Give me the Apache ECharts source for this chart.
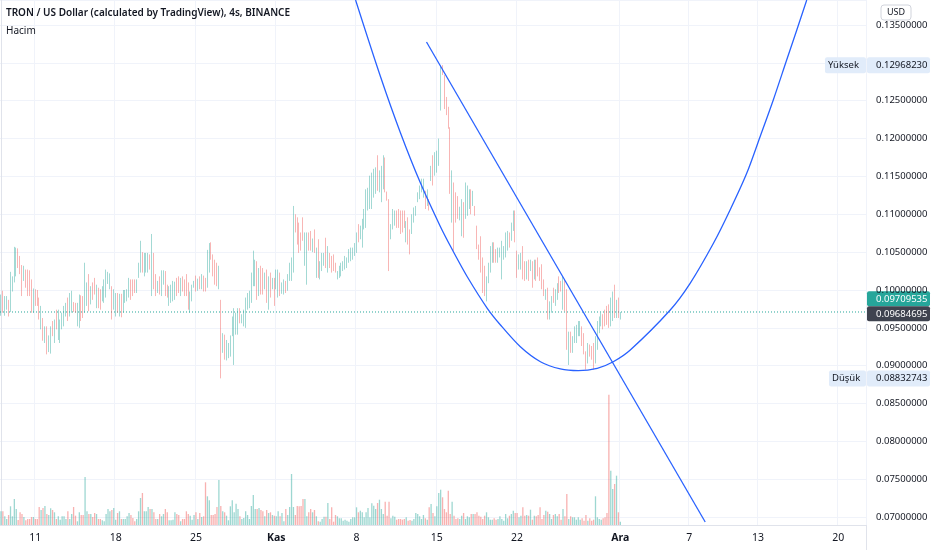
<!DOCTYPE html>
<html><head><meta charset="utf-8">
<script src="https://cdn.jsdelivr.net/npm/echarts@6/dist/echarts.min.js"></script>
<style>html,body{margin:0;padding:0;background:#fff}#c{width:932px;height:550px}</style>
</head><body><div id="c"></div>
<script>
// 4-hour candles, TRX/USD, starting Oct 8 00:00 (one slot per 4h)
const opens = [
.0966,.0999,.0966,.0974,.0987,.0971,.0998,.1010,.1018,.1055,
.1045,.1033,.1012,.1027,.1027,.1026,.1014,.0970,.1001,.1000,
.0990,.0948,.0963,.0930,.0952,.0918,.0916,.0959,.0930,.0974,
.0934,.0930,.0948,.0952,.0965,.0990,.0965,.0970,.0984,.0983,
.0952,.0950,.0993,.0992,.0970,.0979,.1021,.0981,.1010,.1016,
.0976,.1003,.1001,.0985,.0983,.0990,.1008,.1001,.1005,.0974,
.0965,.0996,.0965,.0995,.0970,.0983,.0985,.0990,.1014,.1014,
.1014,.0996,.1016,.1023,.1050,.1018,.1023,.1023,.1047,.0992,
.1049,.1021,.0996,.1018,.0992,.1007,.1025,.1007,.0979,.0983,
.0985,.0987,.1016,.1018,.0992,.1018,.1014,.1021,.1010,.0970,
.0985,.1003,.1019,.0999,.1018,.1001,.1019,.1016,.1003,.1023,
.1063,.1047,.1040,.1036,.1001,.0987,
.0917,.0941,.0907,.0910,.0912,.0939,.0901,.0941,.0941,.0976,
.0956,.0952,.0950,.0974,.0976,.0983,.1005,.1005,.1038,.0992,
.1032,.1029,.1001,.1027,.0974,.1023,.1001,.1016,.1001,.0990,
.1023,.0995,.0994,.1012,.0999,.1012,.1012,.1023,.1100,.1096,
.1089,.1076,.1096,.1032,.1007,.1076,.1078,.1050,.1080,.1016,
.1067,.1014,.1025,.1032,.1069,.1023,.1049,
.1045,.1047,.1036,.1014,.1016,.1018,.1025,.1027,.1029,.1036,
.1038,.1040,.1045,.1049,.1087,.1067,.1056,.1080,.1082,.1105,
.1107,.1107,.1122,.1127,.1178,.1129,.1116,.1133,.1175,.1130,
.1120,.1067,.1080,.1085,.1105,.1107,.1105,.1105,.1105,.1063,
.1096,.1080,.1074,.1089,.1098,.1116,.1120,.1129,.1122,.1131,
.1111,.1120,.1144,.1178,.1151,.1155,.1164,
.1237,.1297,.1284,.1255,.1242,.1215,.1089,.1142,.1129,.1124,
.1092,.1071,.1116,.1094,.1098,.1107,.1133,.1111,.1111,.1085,
.1060,.1071,.1043,.1032,.0985,.1009,.1023,.1036,.1063,.1054,
.1036,.1043,
.1014,.1040,.1043,.1052,.1076,.1065,.1078,.1105,.1052,.1027,
.1027,.1058,.1038,.1014,.1040,.1025,.1038,.1014,.1040,.1043,
.1030,.1034,.1014,.0987,.1003,.0961,.0970,.1003,.0979,.0987,
.1018,.1012,.0974,.1014,.1001,.0901,.0945,.0917,.0930,.0930,
.0939,.0939,.0952,.0943,.0919,.0903,.0928,.0926,.0930,.0903,
.0921,.0943,.0952,.0968,.0974,.0979,.0981,.0952,.0959,.1007,
.0963,.0990,.0961
];
const closes = [
.0994,.0970,.0992,.0992,.0965,.1024,.1018,.1057,.1056,.1029,
.1021,.0992,.1032,.1003,.0992,.0992,.0970,.1002,.0979,.0979,
.0961,.0979,.0933,.0952,.0915,.0940,.0952,.0939,.0961,.0948,
.0974,.0961,.0970,.0979,.0983,.0959,.0996,.0999,.0971,.0970,
.0983,.0994,.0959,.0963,.1036,.1010,.0972,.1005,.0987,.0994,
.1007,.0976,.0974,.1005,.1014,.1027,.1024,.1022,.0961,.1001,
.0996,.0970,.0995,.0964,.1000,.1000,.1001,.1016,.0987,.0992,
.0996,.1014,.1036,.1065,.1023,.1049,.1049,.1049,.1027,.1074,
.1001,.0992,.1012,.0994,.1026,.1026,.0992,.0990,.1005,.1007,
.1012,.1011,.0992,.0996,.1016,.0998,.0992,.0992,.0974,.0998,
.1007,.1012,.0998,.1015,.1001,.1021,.0998,.0998,.1053,.1062,
.1040,.1018,.1007,.1005,.1032,.08833,
.0943,.0908,.0934,.0930,.0940,.0965,.0976,.0970,.0976,.0956,
.0968,.0974,.0990,.0996,.0999,.1023,.1052,.1040,.0987,.1029,
.0994,.0994,.1023,.0983,.1018,.0990,.1016,.0979,.1027,.1027,
.0992,.1010,.1014,.0996,.1021,.1036,.1043,.1111,.1076,.1060,
.1049,.1052,.1065,.1076,.1076,.1052,.1052,.1068,.1049,.1056,
.1016,.1038,.1049,.1049,.1029,.1058,.1029,
.1023,.1025,.1023,.1025,.1032,.1036,.1038,.1045,.1043,.1054,
.1056,.1056,.1062,.1076,.1063,.1085,.1094,.1107,.1133,.1135,
.1151,.1155,.1160,.1162,.1131,.1158,.1164,.1178,.1129,.1118,
.1025,.1087,.1107,.1105,.1082,.1082,.1074,.1076,.1082,.1091,
.1060,.1047,.1100,.1109,.1111,.1129,.1138,.1147,.1147,.1107,
.1133,.1105,.1164,.1138,.1182,.1184,.1200,
.12968,.1284,.1239,.1231,.1213,.1127,.1158,.1052,.1089,.1094,
.1110,.1120,.1069,.1142,.1138,.1133,.1100,.1131,.1098,.1054,
.1040,.1023,.0996,.0992,.1018,.1036,.1058,.1063,.1036,.1036,
.1056,.1056,
.1065,.1058,.1076,.1078,.1056,.1089,.1105,.1063,.1016,.1047,
.1049,.1014,.1012,.1038,.1012,.1040,.1003,.1040,.1012,.1018,
.1012,.1001,.0992,.1001,.0961,.0985,.0992,.0983,.1001,.1009,
.0996,.0998,.1018,.0972,.0921,.0945,.0917,.0939,.0952,.0954,
.0959,.0959,.0926,.0915,.0895,.0930,.0912,.0908,.0895,.0939,
.0959,.0965,.0970,.0948,.0952,.0954,.0950,.0990,.0998,.0963,
.0987,.0963,.09709535
];
// volume per candle (relative units)
const volumes = [
137,137,87,60,100,187,87,260,160,50,
127,110,80,47,60,60,80,80,60,60,
180,150,170,190,110,100,167,150,127,60,
87,53,87,87,60,137,60,110,180,93,
37,127,100,100,480,137,110,110,80,120,
110,60,60,47,37,110,160,137,150,170,
53,120,137,60,60,60,87,120,100,70,
37,60,137,270,320,137,137,180,160,160,
127,60,60,110,87,110,160,127,47,47,
53,127,110,100,37,60,60,137,110,93,
53,100,127,60,120,80,87,427,287,247,
100,100,110,180,450,190,137,127,93,47,
187,247,127,213,160,87,60,70,137,100,
60,190,300,160,160,170,150,137,87,150,
120,127,100,93,87,137,87,120,37,160,
100,180,510,180,100,190,187,190,260,260,
87,127,160,127,150,87,37,
33,60,83,83,220,60,177,33,100,87,
67,67,43,53,43,33,60,77,77,177,
127,143,127,77,127,170,77,217,193,160,
220,253,160,110,233,93,233,67,93,83,
53,60,60,53,60,77,43,50,43,60,
120,110,87,60,100,67,53,177,210,120,
87,187,320,353,277,160,127,343,110,233,
93,60,67,60,93,120,60,87,77,110,
110,110,127,93,83,60,93,127,77,53,
53,67,53,60,87,60,43,110,67,93,
110,143,120,120,77,93,177,93,100,93,
153,53,93,87,100,177,60,100,143,133,
110,60,100,110,87,110,53,160,87,310,
60,87,77,77,53,77,53,67,43,100,
43,67,43,53,287,77,60,53,67,77,
120,1303,543,360,410,493,127,33
];
const slotCount = 453;               // 4h slots from Oct 8 to Dec 22
const tickIndex  = [18, 60, 102, 144, 186, 228, 270, 324, 360, 396, 438];
const tickLabels = ['11','18','25','Kas','8','15','22','Ara','7','13','20'];
const monthLabels = ['Kas','Ara'];
// hand-drawn curve (slot index, price)
const curveIdx   = [185.5,198.6,209.0,219.5,229.9,236.2,244.0,254.3,261.3,271.7,282.2,292.6,302.0,311.9,320.3,329.2,350.1,360.5,372.7,381.4,390.1,397.1,404.0,411.0,416.3,421.5];
const curvePrice = [0.13830,0.12813,0.12074,0.11409,0.10836,0.10528,0.10172,0.09762,0.09538,0.09251,0.09053,0.08957,0.08934,0.08966,0.09053,0.09208,0.09736,0.10088,0.10617,0.11057,0.11541,0.12025,0.12510,0.13038,0.13434,0.13830];
// straight trend line
const trendIdx   = [222.6, 368.4];
const trendPrice = [0.13276, 0.06936];
const lastPrice = 0.09709535, refPrice = 0.09684695;
const highPrice = 0.12968230, lowPrice = 0.08832743;
const priceMin = 0.068961, priceMax = 0.138304, priceStep = 0.005;
const volumeMax = 5250;

const UP = '#26a69a', DOWN = '#ef5350';
const FONT = 'Noto Sans';
const cats = [];
for (let i = 0; i < slotCount; i++) cats.push(String(i));
const candleData = opens.map((o, i) => [o, closes[i], Math.min(o, closes[i]), Math.max(o, closes[i])]);
const volData = volumes.map((v, i) => ({
  value: v,
  itemStyle: { color: closes[i] >= opens[i] ? 'rgba(38,166,154,0.45)' : 'rgba(239,83,80,0.45)' }
}));
const curveData = curveIdx.map((x, i) => [x, curvePrice[i]]);
const trendData = trendIdx.map((x, i) => [x, trendPrice[i]]);
const lastData = [[-0.5, lastPrice], [slotCount - 0.5, lastPrice]];
const isTick = (idx) => tickIndex.indexOf(idx) >= 0;

const chart = echarts.init(document.getElementById('c'), null, { renderer: 'canvas' });
chart.setOption({
  animation: false,
  backgroundColor: '#ffffff',
  textStyle: { fontFamily: FONT },
  title: {
    text: 'TRON / US Dollar (calculated by TradingView), 4s, BINANCE',
    subtext: 'Hacim',
    left: 6, top: 8, itemGap: 8, padding: 0,
    textStyle: { fontFamily: FONT, fontSize: 10, fontWeight: 600, color: '#131722' },
    subtextStyle: { fontFamily: FONT, fontSize: 10, color: '#131722' }
  },
  grid: { left: -1, right: 66, top: 0, bottom: 25 },
  xAxis: [
    { type: 'category', data: cats, boundaryGap: true,
      axisLine: { lineStyle: { color: '#e0e3eb' } },
      axisTick: { show: false },
      axisLabel: {
        interval: (idx) => isTick(idx),
        formatter: (v) => {
          const k = tickIndex.indexOf(Number(v));
          if (k < 0) return '';
          const t = tickLabels[k];
          return monthLabels.indexOf(t) >= 0 ? '{b|' + t + '}' : t;
        },
        color: '#131722', fontSize: 10.5, fontFamily: FONT, margin: 8,
        rich: { b: { fontWeight: 'bold', fontSize: 10.5, fontFamily: FONT, color: '#131722' } }
      },
      splitLine: { show: true, interval: (idx) => isTick(idx), lineStyle: { color: '#f0f3fa', width: 1 } }
    },
    { type: 'value', min: -0.5, max: slotCount - 0.5, show: false }
  ],
  yAxis: [
    { type: 'value', position: 'right', min: priceMin, max: priceMax,
      splitNumber: 14, minInterval: priceStep, maxInterval: priceStep,
      axisLine: { show: true, lineStyle: { color: '#e0e3eb' } },
      axisTick: { show: false },
      splitLine: { show: true, lineStyle: { color: '#f0f3fa', width: 1 } },
      axisLabel: { showMinLabel: false, showMaxLabel: false, margin: 10,
        formatter: (v) => (Math.abs(v - highPrice) < 0.0015 ? '' : v.toFixed(8)),
        color: '#131722', fontSize: 9.5, fontFamily: FONT }
    },
    { type: 'value', min: 0, max: volumeMax, show: false }
  ],
  series: [
    { type: 'bar', name: 'Hacim', xAxisIndex: 0, yAxisIndex: 1, data: volData, barWidth: 1.3, z: 1 },
    { type: 'line', name: 'last', xAxisIndex: 1, yAxisIndex: 0, data: lastData, symbol: 'none', silent: true,
      lineStyle: { type: [1, 2], color: UP, width: 1 }, z: 2 },
    { type: 'candlestick', name: 'TRXUSD', xAxisIndex: 0, yAxisIndex: 0, data: candleData, barWidth: 1.3, z: 3,
      itemStyle: { color: UP, color0: DOWN, borderColor: UP, borderColor0: DOWN, borderWidth: 0.5, opacity: 0.85 } },
    { type: 'line', name: 'curve', xAxisIndex: 1, yAxisIndex: 0, data: curveData, smooth: 0.3,
      symbol: 'none', lineStyle: { color: '#2962ff', width: 1.3 }, z: 4 },
    { type: 'line', name: 'trend', xAxisIndex: 1, yAxisIndex: 0, data: trendData,
      symbol: 'none', lineStyle: { color: '#2962ff', width: 1.3 }, z: 4 }
  ]
});

function py(v) { return chart.convertToPixel({ yAxisIndex: 0 }, v); }
function box(x, y, w, h, bg, txt, fg, pad) {
  return {
    type: 'group', children: [
      { type: 'rect', shape: { x: x, y: y - h / 2, width: w, height: h, r: 2 }, style: { fill: bg } },
      { type: 'text', x: x + pad, y: y,
        style: { text: txt, fill: fg, font: '9.5px "' + FONT + '"', textAlign: 'left', textVerticalAlign: 'middle' } }
    ]
  };
}
const axX = 867, axW = 63;
const yHigh = py(highPrice), yLow = py(lowPrice), yRef = py(refPrice), yLast = yRef - 15;
chart.setOption({
  graphic: [
    { type: 'line', shape: { x1: 866.5, y1: 525, x2: 866.5, y2: 550 }, style: { stroke: '#e0e3eb', lineWidth: 1 } },
    box(825, yHigh, 41, 16, '#e1ecfa', 'Yüksek', '#131722', 3),
    box(axX, yHigh, axW, 16, '#e1ecfa', highPrice.toFixed(8), '#131722', 9),
    box(829, yLow, 37, 16, '#e1ecfa', 'Düşük', '#131722', 3),
    box(axX, yLow, axW, 16, '#e1ecfa', lowPrice.toFixed(8), '#131722', 9),
    box(axX, yLast, axW, 15, UP, lastPrice.toFixed(8), '#ffffff', 9),
    box(axX, yRef, axW, 15, '#3f434f', refPrice.toFixed(8), '#ffffff', 9),
    { type: 'group', children: [
      { type: 'rect', shape: { x: 881, y: 5, width: 30, height: 15, r: 3 }, style: { fill: '#ffffff', stroke: '#d1d4dc', lineWidth: 1 } },
      { type: 'text', x: 896, y: 12.5, style: { text: 'USD', fill: '#131722', font: '9px "' + FONT + '"', textAlign: 'center', textVerticalAlign: 'middle' } }
    ] }
  ]
});
</script>
</body></html>
